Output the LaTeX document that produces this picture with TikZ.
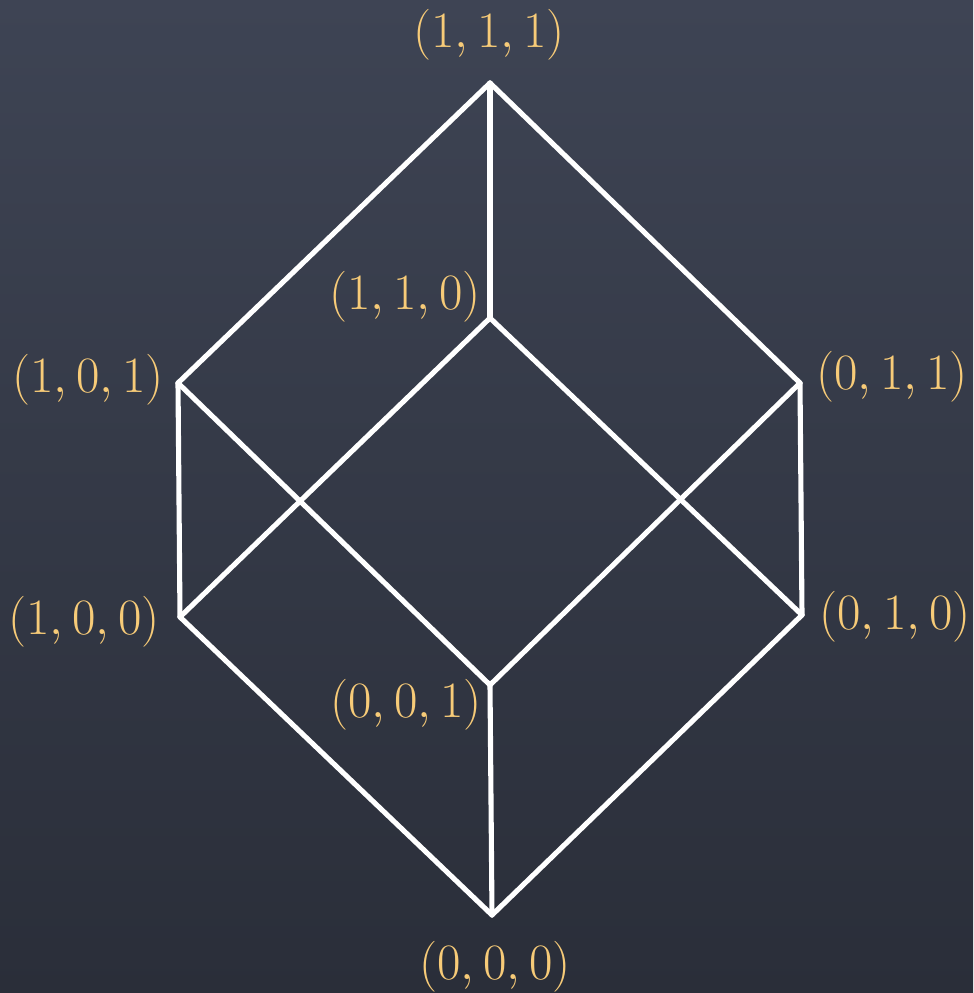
\RequirePackage{fix-cm}
\documentclass[tikz,border=0pt]{standalone}
\usepackage{amsmath}
\definecolor{boardtop}{RGB}{62,68,84}
\definecolor{boardbot}{RGB}{42,46,57}
\definecolor{chalkgold}{RGB}{247,203,120}

\begin{document}
\begin{tikzpicture}[x=0.02cm,y=-0.02cm,
    edge/.style={white, line width=2.9pt, line cap=round, line join=round},
    vlabel/.style={text=chalkgold, inner sep=0pt, font=\fontsize{29}{34}\selectfont}]
  \shade[top color=boardtop, bottom color=boardbot] (0,0) rectangle (973,993);
  \useasboundingbox (0,0) rectangle (973,993);

  \coordinate (v111) at (490,83);
  \coordinate (v110) at (490,318);
  \coordinate (v101) at (178,383);
  \coordinate (v011) at (800,383);
  \coordinate (v100) at (180,617);
  \coordinate (v010) at (802,615);
  \coordinate (v001) at (490,685);
  \coordinate (v000) at (492,915);

  \node[vlabel] (l111) at (489,35) {$(1,1,1)$};
  \node[vlabel] (l110) at (405,297) {$(1,1,0)$};
  \node[vlabel] (l101) at (88,380) {$(1,0,1)$};
  \node[vlabel] (l011) at (892,377) {$(0,1,1)$};
  \node[vlabel] (l100) at (84,622) {$(1,0,0)$};
  \node[vlabel] (l010) at (895,617) {$(0,1,0)$};
  \node[vlabel] (l001) at (406,705) {$(0,0,1)$};
  \node[vlabel] (l000) at (495,967) {$(0,0,0)$};

  \draw[edge] (v111) -- (v101);
  \draw[edge] (v111) -- (v011);
  \draw[edge] (v111) -- (v110);
  \draw[edge] (v110) -- (v100);
  \draw[edge] (v110) -- (v010);
  \draw[edge] (v101) -- (v100);
  \draw[edge] (v101) -- (v001);
  \draw[edge] (v011) -- (v010);
  \draw[edge] (v011) -- (v001);
  \draw[edge] (v100) -- (v000);
  \draw[edge] (v010) -- (v000);
  \draw[edge] (v001) -- (v000);
\end{tikzpicture}
\end{document}
